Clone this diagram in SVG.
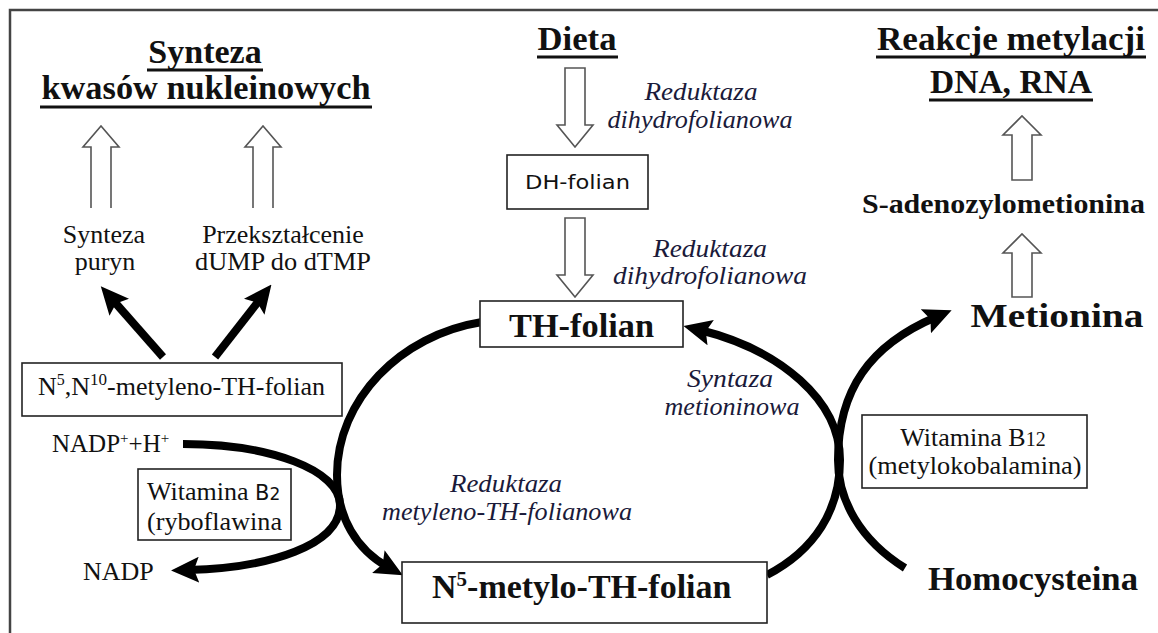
<svg xmlns="http://www.w3.org/2000/svg" width="1158" height="633" viewBox="0 0 1158 633">
<style>
  .t { font-family: "Liberation Serif", "Times New Roman", serif; fill: #111; }
  .title { font-size: 34px; font-weight: bold; }
  .big { font-size: 34px; font-weight: bold; }
  .reg { font-size: 26px; }
  .it { font-size: 26px; font-style: italic; fill: #1a1a3a; }
  .sans { font-family: "DejaVu Sans", "Liberation Sans", sans-serif; fill: #111; }
  .box { fill: #fff; stroke: #222; stroke-width: 1.6; }
  .ul { stroke: #111; stroke-width: 3; }
  .hollow { fill: #fff; stroke: #555; stroke-width: 1.6; }
  .thick { fill: none; stroke: #000; stroke-width: 8; }
</style>
<defs>
  <marker id="ah" markerUnits="userSpaceOnUse" viewBox="0 0 28 26" markerWidth="28" markerHeight="26" refX="11" refY="13" orient="auto">
    <path d="M0,0 L28,13 L0,26 L5,13 Z" fill="#000"/>
  </marker>
</defs>

<rect x="0" y="0" width="1158" height="633" fill="#fff"/>
<path d="M10,633 V10 H1158" fill="none" stroke="#444" stroke-width="2.5"/>

<g id="connectors">
  <!-- hollow block arrows -->
  <path class="hollow" d="M91,208 V147 H83 L101,126 L119,147 H111 V208"/>
  <path class="hollow" d="M253,208 V147 H245 L263,126 L281,147 H273 V208"/>
  <path class="hollow" d="M565,68 H585 V125 H593 L575,147 L557,125 H565 Z"/>
  <path class="hollow" d="M565,218 H585 V275 H593 L575,297 L557,275 H565 Z"/>
  <path class="hollow" d="M1012,180 V135 H1003 L1022,116 L1041,135 H1032 V180 Z"/>
  <path class="hollow" d="M1012,297 V253 H1003 L1022,234 L1041,253 H1032 V297 Z"/>
  <!-- thick black arrows -->
  <path class="thick" d="M163,357 L112,299" marker-end="url(#ah)"/>
  <path class="thick" d="M215,357 L261,298" marker-end="url(#ah)"/>
  <path class="thick" d="M183,444 C270,444 340,470 340,505 C340,545 270,568 188,570" marker-end="url(#ah)"/>
  <path class="thick" d="M482,322 C400,335 337,400 337,475 C337,518 357,550 388,567" marker-end="url(#ah)"/>
  <path class="thick" d="M767,575 C815,550 840,510 840,460 C840,400 780,350 700,330" marker-end="url(#ah)"/>
  <path class="thick" d="M905,568 C860,540 838,500 838,460 C838,390 870,345 936,317" marker-end="url(#ah)"/>
</g>

<g id="title-nucleic">
  <text class="t title" x="205" y="63" text-anchor="middle">Synteza</text>
  <line class="ul" x1="147" y1="70" x2="263" y2="70"/>
  <text class="t title" x="206" y="99" text-anchor="middle" textLength="329" lengthAdjust="spacingAndGlyphs">kwasów nukleinowych</text>
  <line class="ul" x1="40" y1="107" x2="372" y2="107"/>
</g>

<g id="title-dieta">
  <text class="t title" x="577" y="50" text-anchor="middle" textLength="79" lengthAdjust="spacingAndGlyphs">Dieta</text>
  <line class="ul" x1="537" y1="57" x2="618" y2="57"/>
</g>

<g id="title-methylation">
  <text class="t title" x="1011" y="50" text-anchor="middle" textLength="268" lengthAdjust="spacingAndGlyphs">Reakcje metylacji</text>
  <line class="ul" x1="876" y1="57" x2="1146" y2="57"/>
  <text class="t title" x="1011" y="93" text-anchor="middle" textLength="162" lengthAdjust="spacingAndGlyphs">DNA, RNA</text>
  <line class="ul" x1="929" y1="100" x2="1093" y2="100"/>
</g>

<g id="purine">
  <text class="t reg" x="104" y="243" text-anchor="middle">Synteza</text>
  <text class="t reg" x="105" y="270" text-anchor="middle">puryn</text>
</g>

<g id="dump">
  <text class="t reg" x="283" y="243" text-anchor="middle">Przekształcenie</text>
  <text class="t reg" x="283" y="270" text-anchor="middle" textLength="176" lengthAdjust="spacingAndGlyphs">dUMP do dTMP</text>
</g>

<g id="enzyme-dhfr1">
  <text class="t it" x="701" y="100" text-anchor="middle" textLength="113" lengthAdjust="spacingAndGlyphs">Reduktaza</text>
  <text class="t it" x="700" y="128" text-anchor="middle" textLength="185" lengthAdjust="spacingAndGlyphs">dihydrofolianowa</text>
</g>

<g id="dh-folian">
  <rect class="box" x="507" y="155" width="141" height="54"/>
  <text class="sans" x="577.5" y="189" font-size="20" text-anchor="middle" textLength="105" lengthAdjust="spacingAndGlyphs">DH-folian</text>
</g>

<g id="enzyme-dhfr2">
  <text class="t it" x="710" y="257" text-anchor="middle" textLength="114" lengthAdjust="spacingAndGlyphs">Reduktaza</text>
  <text class="t it" x="710" y="284" text-anchor="middle" textLength="194" lengthAdjust="spacingAndGlyphs">dihydrofolianowa</text>
</g>

<g id="th-folian">
  <rect class="box" x="480" y="301" width="203" height="46"/>
  <text class="t big" x="581.5" y="337" text-anchor="middle" textLength="145" lengthAdjust="spacingAndGlyphs">TH-folian</text>
</g>

<g id="s-adenosyl">
  <text class="t" x="1003.5" y="213" font-size="27" font-weight="bold" text-anchor="middle" textLength="283" lengthAdjust="spacingAndGlyphs">S-adenozylometionina</text>
</g>

<g id="metionina">
  <text class="t big" x="1057" y="327" text-anchor="middle" textLength="173" lengthAdjust="spacingAndGlyphs">Metionina</text>
</g>

<g id="methylene-th-folian">
  <rect class="box" x="22" y="363" width="320" height="53"/>
  <text class="t reg" x="38" y="395">N<tspan font-size="16" dy="-10">5</tspan><tspan dy="10">,N</tspan><tspan font-size="17" dy="-10">10</tspan><tspan dy="10">-metyleno-TH-folian</tspan></text>
</g>

<g id="nadph">
  <text class="t" x="52" y="452" font-size="25">NADP<tspan font-size="15" dy="-9">+</tspan><tspan dy="9">+H</tspan><tspan font-size="15" dy="-9">+</tspan></text>
</g>

<g id="vit-b2">
  <rect class="box" x="138" y="469" width="153" height="71"/>
  <text class="t reg" x="147" y="500">Witamina <tspan class="sans" font-size="21">B</tspan><tspan class="sans" font-size="17">2</tspan></text>
  <text class="t reg" x="147" y="530" textLength="135" lengthAdjust="spacingAndGlyphs">(ryboflawina</text>
</g>

<g id="nadp">
  <text class="t reg" x="83" y="580">NADP</text>
</g>

<g id="enzyme-mthfr">
  <text class="t it" x="506" y="492" text-anchor="middle" textLength="112" lengthAdjust="spacingAndGlyphs">Reduktaza</text>
  <text class="t it" x="507" y="520" text-anchor="middle" textLength="250" lengthAdjust="spacingAndGlyphs">metyleno-TH-folianowa</text>
</g>

<g id="enzyme-ms">
  <text class="t it" x="730" y="387" text-anchor="middle" textLength="86" lengthAdjust="spacingAndGlyphs">Syntaza</text>
  <text class="t it" x="732" y="415" text-anchor="middle" textLength="135" lengthAdjust="spacingAndGlyphs">metioninowa</text>
</g>

<g id="vit-b12">
  <rect class="box" x="862" y="415" width="225" height="73"/>
  <text class="t reg" x="973" y="446" text-anchor="middle">Witamina B<tspan font-size="20">12</tspan></text>
  <text class="t reg" x="975" y="474" text-anchor="middle" textLength="213" lengthAdjust="spacingAndGlyphs">(metylokobalamina)</text>
</g>

<g id="n5-methyl-th-folian">
  <rect class="box" x="402" y="562" width="365" height="61"/>
  <text class="t big" x="432" y="598">N<tspan font-size="21" dy="-12">5</tspan><tspan dy="12">-metylo-TH-folian</tspan></text>
</g>

<g id="homocysteina">
  <text class="t big" x="1033" y="590" text-anchor="middle" textLength="210" lengthAdjust="spacingAndGlyphs">Homocysteina</text>
</g>
</svg>
